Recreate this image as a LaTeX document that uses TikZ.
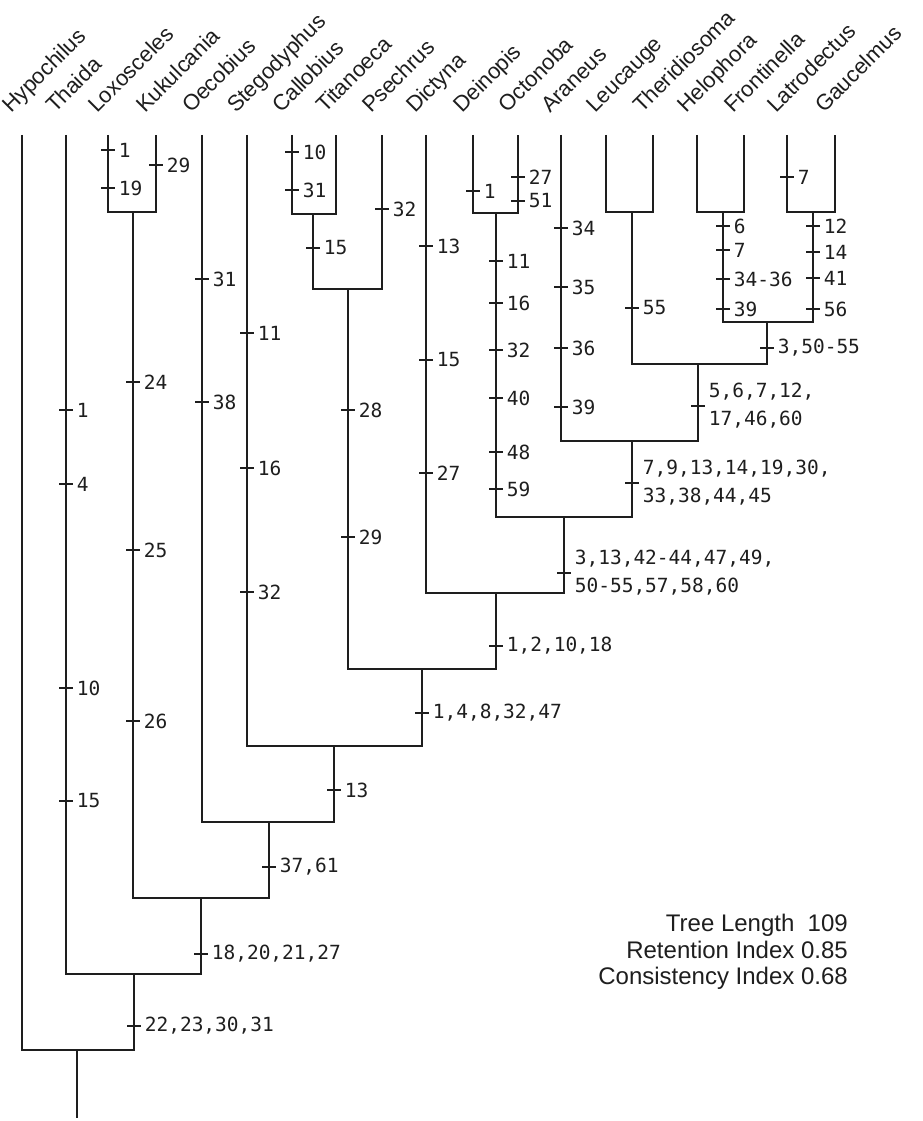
\documentclass[tikz,border=0pt]{standalone}
\usepackage{fontspec}
\setmainfont{Liberation Sans}
\newfontfamily\charfont{DejaVu Sans Mono}
\usetikzlibrary{calc}
\definecolor{ink}{RGB}{30, 30, 30}
\tikzset{
  branch/.style={line width=1.8pt, ink},
  tick/.style={line width=1.6pt, ink},
  taxon/.style={rotate=45, anchor=base west, inner sep=0pt, text=ink,
    font=\fontsize{22}{26}\selectfont},
  chars/.style={anchor=west, inner sep=0pt, xshift=3pt, align=left, text=ink,
    font=\charfont\fontsize{19.5}{28}\selectfont},
  stat/.style={anchor=east, inner sep=0pt, align=right, text=ink,
    font=\fontsize{24}{26.5}\selectfont},
}
% character change on a branch: branch, height, characters
\newcommand\apo[3]{\coordinate (h) at (0,#2);
  \draw[tick] (#1 |- h) ++(-7,0) -- ++(14,0) node[chars]{#3};}

\begin{document}
\begin{tikzpicture}[x=1pt, y=-1pt]
  \useasboundingbox (0,0) rectangle (923,1121);
  % terminal taxa
  \foreach \name/\px in {Hypochilus/22, Thaida/66, Loxosceles/108, Kukulcania/156,
      Oecobius/202, Stegodyphus/247, Callobius/292, Titanoeca/336, Psechrus/382,
      Dictyna/426, Deinopis/473, Octonoba/518, Araneus/561, Leucauge/606,
      Theridiosoma/653, Helophora/697, Frontinella/744, Latrodectus/787, Gaucelmus/835} {
    \coordinate (t-\name) at (\px,135);
    \node[taxon] (n-\name) at (\px-11,114) {\name};
  }
  % clades
  \coordinate (lk) at (133,212);   \coordinate (ct) at (313,214);
  \coordinate (ctp) at (348,289);  \coordinate (do) at (496,213);
  \coordinate (lt) at (632,212);   \coordinate (hf) at (723,212);
  \coordinate (lg) at (813,212);   \coordinate (hflg) at (767,322);
  \coordinate (theri) at (698,364); \coordinate (arach) at (632,441);
  \coordinate (orb) at (564,517);  \coordinate (dict) at (496,593);
  \coordinate (psech) at (422,669); \coordinate (steg) at (334,746);
  \coordinate (oec) at (269,822);  \coordinate (haplo) at (201,898);
  \coordinate (thai) at (134,974); \coordinate (root) at (77,1050);
  \coordinate (base) at (77,1118);
  \foreach \a/\p/\b in {t-Loxosceles/lk/t-Kukulcania, t-Callobius/ct/t-Titanoeca,
      ct/ctp/t-Psechrus, t-Deinopis/do/t-Octonoba, t-Leucauge/lt/t-Theridiosoma,
      t-Helophora/hf/t-Frontinella, t-Latrodectus/lg/t-Gaucelmus, hf/hflg/lg,
      lt/theri/hflg, t-Araneus/arach/theri, do/orb/arach, t-Dictyna/dict/orb,
      ctp/psech/dict, t-Stegodyphus/steg/psech, t-Oecobius/oec/steg, lk/haplo/oec,
      t-Thaida/thai/haplo, t-Hypochilus/root/thai}
    \draw[branch] (\a) |- (\p) -| (\b);
  \draw[branch] (root) -- (base);
  % character changes
  \apo{t-Thaida}{410}{1} \apo{t-Thaida}{484}{4} \apo{t-Thaida}{688}{10} \apo{t-Thaida}{801}{15}
  \apo{t-Loxosceles}{150}{1} \apo{t-Loxosceles}{188}{19} \apo{t-Kukulcania}{165}{29}
  \apo{lk}{382}{24} \apo{lk}{550}{25} \apo{lk}{721}{26}
  \apo{t-Oecobius}{279}{31} \apo{t-Oecobius}{402}{38}
  \apo{t-Stegodyphus}{333}{11} \apo{t-Stegodyphus}{468}{16} \apo{t-Stegodyphus}{592}{32}
  \apo{t-Callobius}{152}{10} \apo{t-Callobius}{190}{31} \apo{ct}{248}{15}
  \apo{t-Psechrus}{209}{32} \apo{ctp}{410}{28} \apo{ctp}{537}{29}
  \apo{t-Dictyna}{246}{13} \apo{t-Dictyna}{360}{15} \apo{t-Dictyna}{473}{27}
  \apo{t-Deinopis}{191}{1} \apo{t-Octonoba}{177}{27} \apo{t-Octonoba}{201}{51}
  \apo{do}{261}{11} \apo{do}{303}{16} \apo{do}{350}{32} \apo{do}{398}{40}
  \apo{do}{452}{48} \apo{do}{489}{59}
  \apo{t-Araneus}{228}{34} \apo{t-Araneus}{287}{35} \apo{t-Araneus}{348}{36} \apo{t-Araneus}{407}{39}
  \apo{lt}{308}{55}
  \apo{hf}{226}{6} \apo{hf}{250}{7} \apo{hf}{279}{34-36} \apo{hf}{309}{39}
  \apo{t-Latrodectus}{177}{7}
  \apo{lg}{226}{12} \apo{lg}{252}{14} \apo{lg}{278}{41} \apo{lg}{309}{56}
  \apo{hflg}{348}{3,50-55}
  \apo{theri}{406}{5,6,7,12,\\17,46,60}
  \apo{arach}{483}{7,9,13,14,19,30,\\33,38,44,45}
  \apo{orb}{573}{3,13,42-44,47,49,\\50-55,57,58,60}
  \apo{dict}{646}{1,2,10,18}
  \apo{psech}{713}{1,4,8,32,47}
  \apo{steg}{790}{13}
  \apo{oec}{867}{37,61}
  \apo{haplo}{954}{18,20,21,27}
  \apo{thai}{1026}{22,23,30,31}
  \node[stat] (stats) at (848,952) {Tree Length\ \ 109\\Retention Index 0.85\\Consistency Index 0.68};
\end{tikzpicture}
\end{document}
